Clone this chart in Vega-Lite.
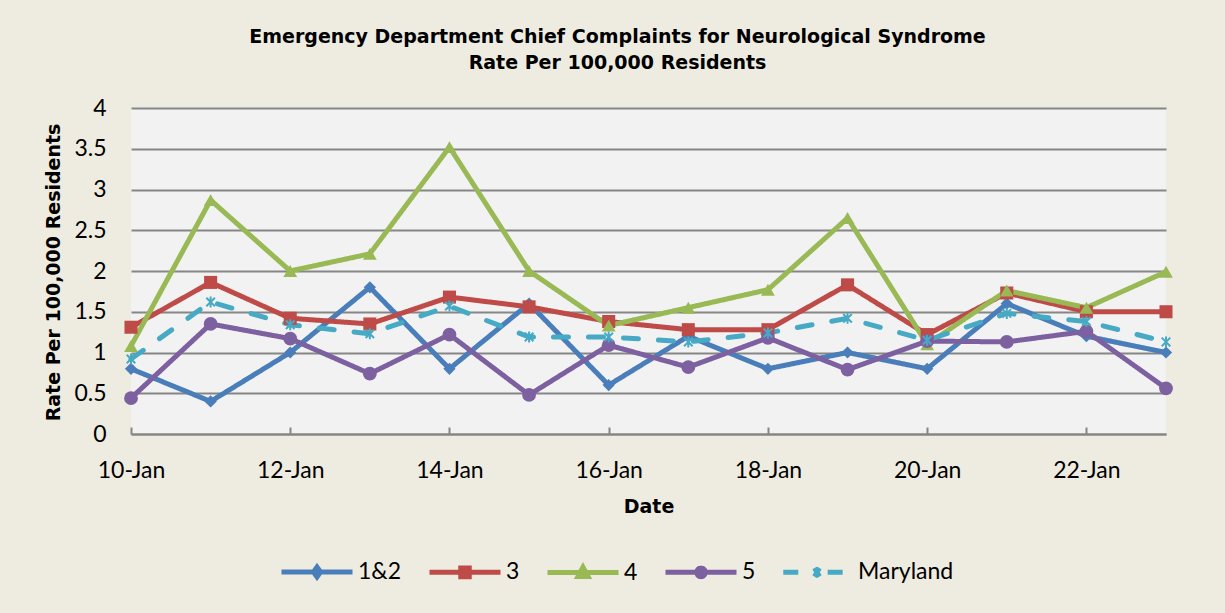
{
  "$schema": "https://vega.github.io/schema/vega-lite/v6.json",
  "autosize": "none",
  "width": 1035,
  "height": 326,
  "padding": {"left": 131, "top": 108, "right": 59, "bottom": 179},
  "background": "#EEECE1",
  "title": {
    "text": ["Emergency Department Chief Complaints for Neurological Syndrome", "Rate Per 100,000 Residents"],
    "anchor": "middle",
    "dx": -31,
    "offset": 24,
    "font": "DejaVu Sans",
    "fontWeight": "bold",
    "fontSize": 19,
    "lineHeight": 26,
    "color": "#000000"
  },
  "config": {
    "view": {"fill": "#F2F2F2", "stroke": null},
    "font": "Lato"
  },
  "data": {
    "values": [
      {"date": "10-Jan", "series": "1&2", "value": 0.8},
      {"date": "11-Jan", "series": "1&2", "value": 0.4},
      {"date": "12-Jan", "series": "1&2", "value": 1.0},
      {"date": "13-Jan", "series": "1&2", "value": 1.8},
      {"date": "14-Jan", "series": "1&2", "value": 0.8},
      {"date": "15-Jan", "series": "1&2", "value": 1.6},
      {"date": "16-Jan", "series": "1&2", "value": 0.6},
      {"date": "17-Jan", "series": "1&2", "value": 1.2},
      {"date": "18-Jan", "series": "1&2", "value": 0.8},
      {"date": "19-Jan", "series": "1&2", "value": 1.0},
      {"date": "20-Jan", "series": "1&2", "value": 0.8},
      {"date": "21-Jan", "series": "1&2", "value": 1.6},
      {"date": "22-Jan", "series": "1&2", "value": 1.2},
      {"date": "23-Jan", "series": "1&2", "value": 1.0},
      {"date": "10-Jan", "series": "3", "value": 1.31},
      {"date": "11-Jan", "series": "3", "value": 1.86},
      {"date": "12-Jan", "series": "3", "value": 1.42},
      {"date": "13-Jan", "series": "3", "value": 1.35},
      {"date": "14-Jan", "series": "3", "value": 1.68},
      {"date": "15-Jan", "series": "3", "value": 1.56},
      {"date": "16-Jan", "series": "3", "value": 1.38},
      {"date": "17-Jan", "series": "3", "value": 1.28},
      {"date": "18-Jan", "series": "3", "value": 1.28},
      {"date": "19-Jan", "series": "3", "value": 1.83},
      {"date": "20-Jan", "series": "3", "value": 1.22},
      {"date": "21-Jan", "series": "3", "value": 1.73},
      {"date": "22-Jan", "series": "3", "value": 1.5},
      {"date": "23-Jan", "series": "3", "value": 1.5},
      {"date": "10-Jan", "series": "4", "value": 1.08},
      {"date": "11-Jan", "series": "4", "value": 2.87},
      {"date": "12-Jan", "series": "4", "value": 2.0},
      {"date": "13-Jan", "series": "4", "value": 2.21},
      {"date": "14-Jan", "series": "4", "value": 3.52},
      {"date": "15-Jan", "series": "4", "value": 2.0},
      {"date": "16-Jan", "series": "4", "value": 1.33},
      {"date": "17-Jan", "series": "4", "value": 1.55},
      {"date": "18-Jan", "series": "4", "value": 1.77},
      {"date": "19-Jan", "series": "4", "value": 2.65},
      {"date": "20-Jan", "series": "4", "value": 1.1},
      {"date": "21-Jan", "series": "4", "value": 1.76},
      {"date": "22-Jan", "series": "4", "value": 1.55},
      {"date": "23-Jan", "series": "4", "value": 1.99},
      {"date": "10-Jan", "series": "5", "value": 0.44},
      {"date": "11-Jan", "series": "5", "value": 1.35},
      {"date": "12-Jan", "series": "5", "value": 1.17},
      {"date": "13-Jan", "series": "5", "value": 0.74},
      {"date": "14-Jan", "series": "5", "value": 1.22},
      {"date": "15-Jan", "series": "5", "value": 0.48},
      {"date": "16-Jan", "series": "5", "value": 1.09},
      {"date": "17-Jan", "series": "5", "value": 0.82},
      {"date": "18-Jan", "series": "5", "value": 1.18},
      {"date": "19-Jan", "series": "5", "value": 0.79},
      {"date": "20-Jan", "series": "5", "value": 1.14},
      {"date": "21-Jan", "series": "5", "value": 1.13},
      {"date": "22-Jan", "series": "5", "value": 1.26},
      {"date": "23-Jan", "series": "5", "value": 0.56},
      {"date": "10-Jan", "series": "Maryland", "value": 0.92},
      {"date": "11-Jan", "series": "Maryland", "value": 1.62},
      {"date": "12-Jan", "series": "Maryland", "value": 1.34},
      {"date": "13-Jan", "series": "Maryland", "value": 1.23},
      {"date": "14-Jan", "series": "Maryland", "value": 1.57},
      {"date": "15-Jan", "series": "Maryland", "value": 1.19},
      {"date": "16-Jan", "series": "Maryland", "value": 1.19},
      {"date": "17-Jan", "series": "Maryland", "value": 1.13},
      {"date": "18-Jan", "series": "Maryland", "value": 1.24},
      {"date": "19-Jan", "series": "Maryland", "value": 1.42},
      {"date": "20-Jan", "series": "Maryland", "value": 1.15},
      {"date": "21-Jan", "series": "Maryland", "value": 1.48},
      {"date": "22-Jan", "series": "Maryland", "value": 1.38},
      {"date": "23-Jan", "series": "Maryland", "value": 1.13}
    ]
  },
  "encoding": {
    "x": {
      "field": "date",
      "type": "ordinal",
      "sort": null,
      "scale": {"type": "point", "padding": 0},
      "axis": {
        "title": "Date",
        "titleFont": "DejaVu Sans",
        "titleFontWeight": "bold",
        "titleFontSize": 19,
        "titleColor": "#000000",
        "titleY": 72,
        "titleBaseline": "middle",
        "values": ["10-Jan", "12-Jan", "14-Jan", "16-Jan", "18-Jan", "20-Jan", "22-Jan"],
        "labelAngle": 0,
        "labelFontSize": 23,
        "labelColor": "#000000",
        "labelPadding": 43,
        "labelBaseline": "middle",
        "domainColor": "#868686",
        "domainWidth": 2,
        "tickColor": "#868686",
        "tickWidth": 2,
        "tickSize": -7,
        "grid": false
      }
    },
    "y": {
      "field": "value",
      "type": "quantitative",
      "scale": {"domain": [0, 4], "nice": false},
      "axis": {
        "title": "Rate Per 100,000 Residents",
        "titleFont": "DejaVu Sans",
        "titleFontWeight": "bold",
        "titleFontSize": 19,
        "titleColor": "#000000",
        "titleX": -78,
        "titleY": 164,
        "titleAngle": -90,
        "titleAlign": "center",
        "titleBaseline": "middle",
        "values": [0, 0.5, 1, 1.5, 2, 2.5, 3, 3.5, 4],
        "format": "~g",
        "labelFontSize": 23,
        "labelColor": "#000000",
        "labelPadding": 25,
        "domain": false,
        "ticks": false,
        "grid": true,
        "gridColor": "#868686",
        "gridWidth": 2
      }
    }
  },
  "layer": [
    {
      "mark": {"type": "line", "strokeWidth": 5, "strokeCap": "round", "strokeJoin": "round"},
      "encoding": {
        "color": {
          "field": "series",
          "type": "nominal",
          "scale": {"domain": ["1&2", "3", "4", "5", "Maryland"], "range": ["#4A7EBB", "#BE4B48", "#98B954", "#7D60A0", "#46AAC5"]}
        },
        "strokeDash": {
          "field": "series",
          "type": "nominal",
          "scale": {"domain": ["1&2", "3", "4", "5", "Maryland"], "range": [[1, 0], [1, 0], [1, 0], [1, 0], [15, 20]]},
          "legend": null
        }
      }
    },
    {
      "transform": [{"filter": "datum.series === '1&2'"}],
      "mark": {"type": "point", "filled": true, "shape": "diamond", "size": 150, "opacity": 1},
      "encoding": {"color": {"field": "series", "type": "nominal"}}
    },
    {
      "transform": [{"filter": "datum.series === '3'"}],
      "mark": {"type": "point", "filled": true, "shape": "square", "size": 170, "opacity": 1},
      "encoding": {"color": {"field": "series", "type": "nominal"}}
    },
    {
      "transform": [{"filter": "datum.series === '4'"}],
      "mark": {"type": "point", "filled": true, "shape": "triangle-up", "size": 190, "opacity": 1},
      "encoding": {"color": {"field": "series", "type": "nominal"}}
    },
    {
      "transform": [{"filter": "datum.series === '5'"}],
      "mark": {"type": "point", "filled": true, "shape": "circle", "size": 190, "opacity": 1},
      "encoding": {"color": {"field": "series", "type": "nominal"}}
    },
    {
      "transform": [{"filter": "datum.series === 'Maryland'"}],
      "mark": {"type": "point", "filled": false, "shape": "M-0.7,-0.7L0.7,0.7M0.7,-0.7L-0.7,0.7M0,-0.9L0,0.9", "size": 150, "strokeWidth": 2, "opacity": 1},
      "encoding": {"color": {"field": "series", "type": "nominal"}}
    },
    {
      "mark": {"type": "point", "filled": false, "strokeWidth": 5, "opacity": 0},
      "encoding": {
        "color": {
          "field": "series",
          "type": "nominal",
          "legend": {
            "title": null,
            "orient": "none",
            "direction": "horizontal",
            "legendX": 148,
            "legendY": 426,
            "symbolSize": 5041,
            "symbolStrokeWidth": 5,
            "symbolOpacity": 1,
            "labelFontSize": 23,
            "labelColor": "#000000",
            "labelOffset": 3,
            "columnPadding": 17
          }
        },
        "shape": {
          "field": "series",
          "type": "nominal",
          "scale": {"domain": ["1&2", "3", "4", "5", "Maryland"], "range": ["M-1,0H1M0,-0.14L0.1,0L0,0.14L-0.1,0Z", "M-1,0H1M-0.12,-0.12H0.12V0.12H-0.12Z", "M-1,0H1M0,-0.15L0.14,0.11H-0.14Z", "M-1,0H1M0.12,0A0.12,0.12,0,1,1,-0.12,0A0.12,0.12,0,1,1,0.12,0Z", "M-0.95,0H-0.3M0.3,0H0.95M-0.07,-0.12L0.07,0.12M0.07,-0.12L-0.07,0.12"]},
          "legend": {
            "title": null,
            "orient": "none",
            "direction": "horizontal",
            "legendX": 148,
            "legendY": 426,
            "symbolSize": 5041,
            "symbolStrokeWidth": 5,
            "symbolOpacity": 1,
            "labelFontSize": 23,
            "labelColor": "#000000",
            "labelOffset": 3,
            "columnPadding": 17
          }
        }
      }
    }
  ]
}
